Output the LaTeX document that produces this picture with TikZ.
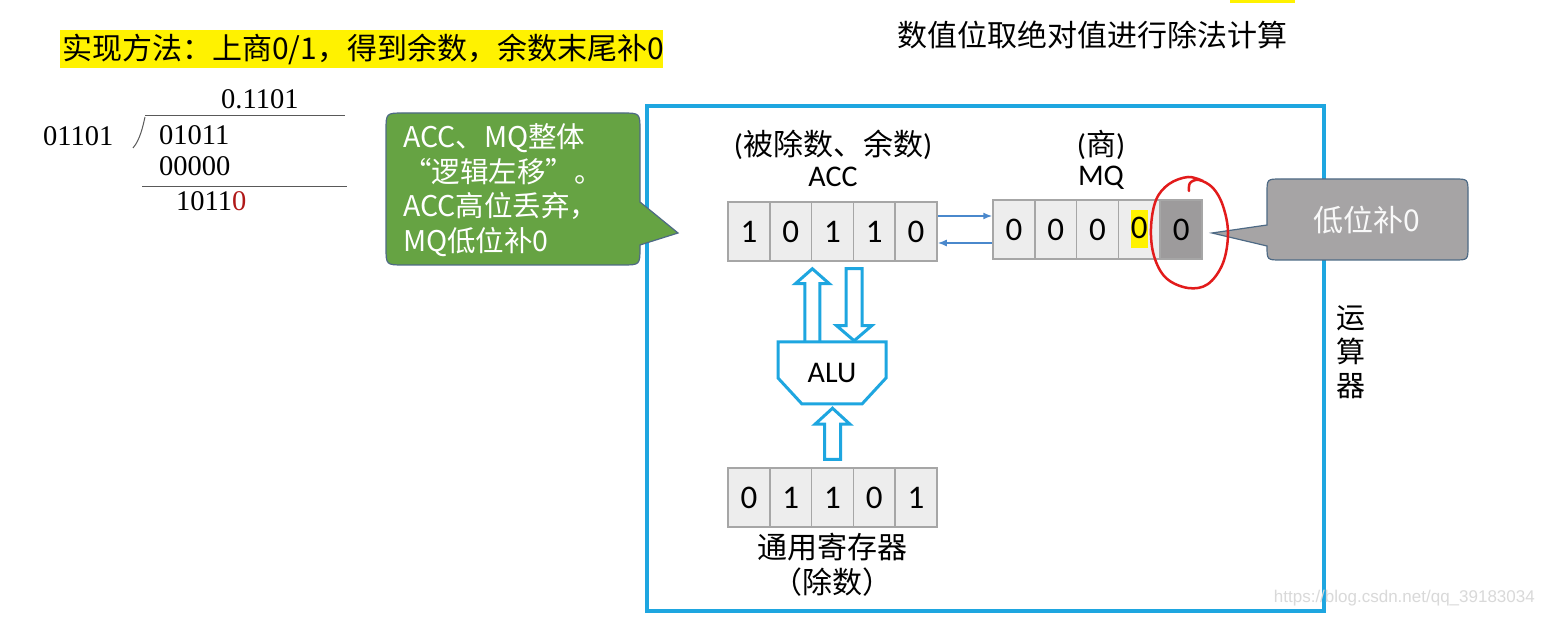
\documentclass[tikz,border=0pt]{standalone}
\usepackage{fontspec}
\setmainfont{Liberation Serif}
\newfontfamily\cjk{Noto Sans CJK SC}
\newfontfamily\calf{Carlito}
\newfontfamily\arialf{Liberation Sans}
\usetikzlibrary{arrows.meta,calc}
\definecolor{skyb}{HTML}{1EA6E0}
\definecolor{cellfill}{HTML}{EDEDED}
\definecolor{cellline}{HTML}{A6A6A6}
\definecolor{darkcell}{HTML}{9D9B9C}
\definecolor{calloutgreen}{HTML}{66A343}
\definecolor{calloutgray}{HTML}{A6A4A5}
\definecolor{calloutedge}{HTML}{4E6A85}
\definecolor{arrowblue}{HTML}{4A88CC}
\definecolor{darkred}{HTML}{B01818}
\definecolor{redink}{HTML}{E21B1B}
\newcommand\fsz[2]{\fontsize{#1}{#2}\selectfont}
\begin{document}
\begin{tikzpicture}[x=1pt,y=-1pt,
  cell/.style={draw=cellline, line width=1.5pt, fill=cellfill, minimum width=41.8pt,
    minimum height=59pt, inner sep=0pt, font=\calf\fsz{33}{38}},
  lbl/.style={inner sep=0pt, font=\calf\fsz{30}{36}},
  cjklbl/.style={inner sep=0pt, font=\cjk\fsz{30}{36}},
  divtxt/.style={inner sep=0pt, anchor=base west, font=\fsz{28.5}{34}},
  divline/.style={draw=gray!70!black, line width=1pt},
  hollow/.style={draw=skyb, line width=3pt, fill=white, line join=miter},
  regarrow/.style={draw=arrowblue, line width=1.5pt, -{Latex[length=9pt,width=7pt]}},
  callout/.style={draw=calloutedge, line width=1.2pt}
]
\useasboundingbox (0,0) rectangle (1545,617);
\fill[white] (0,0) rectangle (1545,617);

% titles
\fill[yellow] (60,30) rectangle (663,68);
\node[cjklbl, anchor=west] (title) at (62,49) {实现方法：上商0/1，得到余数，余数末尾补0};
\fill[yellow] (1230,0) rectangle (1295,3);
\node[cjklbl] (rtitle) at (1092,35) {数值位取绝对值进行除法计算};

% long division
\node[divtxt] (quot) at (221,109) {0.1101};
\node[divtxt] (dvsr) at (43,146) {01101};
\node[divtxt] (dvd) at (159,145) {01011};
\node[divtxt] (sub) at (159,176) {00000};
\node[divtxt] (rem) at (176,211) {1011{\color{darkred}0}};
\draw[divline] (145,116) -- (345,116);
\draw[divline] (142,187) -- (347,187);
\draw[divline] (133,148) .. controls (140,140) and (143,126) .. (145,117);

% operator frame
\draw[skyb, line width=4pt] (647,106) rectangle (1324,611);
\node[cjklbl, align=center, font=\cjk\fsz{29}{34}] (unit) at (1351,352) {运\\算\\器};

% register labels
\node[lbl, anchor=base] (acclbl2) at (833,156) {(\cjk 被除数、余数\calf)};
\node[lbl, anchor=base] (acclbl) at (833,187) {ACC};
\node[lbl, anchor=base] (mqlbl2) at (1101,156) {(\cjk 商\calf)};
\node[lbl, anchor=base] (mqlbl) at (1101,186) {MQ};

% ACC register
\foreach \i/\d in {1/1,2/0,3/1,4/1,5/0}
  \node[cell] (acc\i) at ({728+20.9+41.8*(\i-1)},231.5) {\d};
% MQ register
\node[cell] (mq1) at (1013.9,229.5) {0};
\node[cell] (mq2) at (1055.7,229.5) {0};
\node[cell] (mq3) at (1097.5,229.5) {0};
\node[cell] (mq4) at (1139.3,229.5) {\fboxsep=0pt\colorbox{yellow}{\rule[-10pt]{0pt}{38pt}0}};
\node[cell, fill=darkcell] (mq5) at (1181.1,229.5) {0};
% general register
\foreach \i/\d in {1/0,2/1,3/1,4/0,5/1}
  \node[cell] (gr\i) at ({728+20.9+41.8*(\i-1)},497.5) {\d};
\node[cjklbl] (grlbl) at (832,547) {通用寄存器};
\node[cjklbl] (grlbl2) at (832,582) {（除数）};

% shift arrows
\draw[regarrow] ([yshift=15.5pt]acc5.east) -- ([yshift=15.5pt]acc5.east -| mq1.west);
\draw[regarrow] ([yshift=-11.5pt]acc5.east -| mq1.west) -- ([yshift=-11.5pt]acc5.east);

% hollow arrows
\begin{scope}[shift={(acc2.south east)}]
  \draw[hollow] (0,7) -- (17,22) -- (7.5,22) -- (7.5,81) -- (-7.5,81) -- (-7.5,22) -- (-17,22) -- cycle;
\end{scope}
\begin{scope}[shift={(acc3.south east)}]
  \draw[hollow] (0,79) -- (17.5,64) -- (8,64) -- (8,7) -- (-8,7) -- (-8,64) -- (-17.5,64) -- cycle;
\end{scope}
\begin{scope}[shift={(gr3.north)}]
  \draw[hollow] (0,-59) -- (17.5,-43) -- (8,-43) -- (8,-8) -- (-8,-8) -- (-8,-43) -- (-17.5,-43) -- cycle;
\end{scope}

% ALU
\draw[hollow] (778,342) -- (886,342) -- (886,378) -- (862,404) -- (802,404) -- (778,378) -- cycle;
\node[lbl, font=\calf\fsz{30}{34}] (alu) at (832,373) {ALU};

% green callout
\filldraw[callout, fill=calloutgreen] (404,113) -- (622,113) .. controls (640,113) .. (640,131)
  -- (640,202) -- (678,233) -- (640,245) -- (640,247) .. controls (640,265) .. (622,265)
  -- (404,265) .. controls (386,265) .. (386,247) -- (386,131) .. controls (386,113) .. (404,113) -- cycle;
\node[inner sep=0pt, anchor=west, align=left, text=white, font=\cjk\fsz{28.5}{34.5}] (note1) at (403,190)
  {ACC、MQ整体\\“逻辑左移”。\\ACC高位丢弃，\\MQ低位补0};

% gray callout
\filldraw[callout, fill=calloutgray] (1281,179) -- (1454,179) .. controls (1468,179) .. (1468,193)
  -- (1468,246) .. controls (1468,260) .. (1454,260) -- (1281,260) .. controls (1267,260) .. (1267,246)
  -- (1212,233) -- (1267,225) -- (1267,193) .. controls (1267,179) .. (1281,179) -- cycle;
\node[cjklbl, text=white!95!gray] (note2) at (1367,220) {低位补0};

% red hand-drawn circle
\draw[redink, line width=2.5pt, line cap=round, line join=round] plot[smooth, tension=0.6] coordinates
  {(1189,191) (1190,183) (1199,180) (1213,188) (1223,206) (1228,233) (1223,263) (1208,284)
   (1188,288) (1166,278) (1154,256) (1151,228) (1156,200) (1169,184) (1188,177) (1203,181)};

% watermark
\node[inner sep=0pt, anchor=east, text=gray!30, font=\arialf\fsz{17}{20}] (wm) at (1535,598) {https://blog.csdn.net/qq\_39183034};
\end{tikzpicture}
\end{document}
